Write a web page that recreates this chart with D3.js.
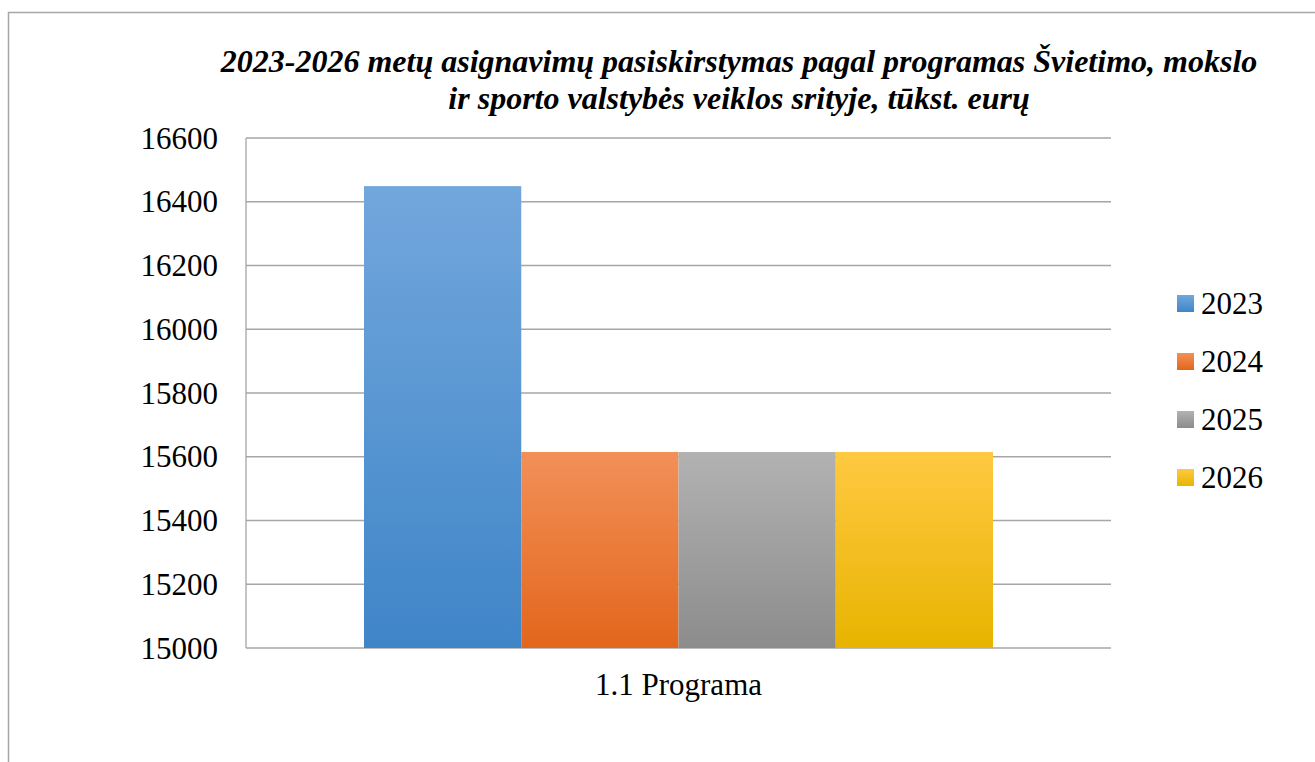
<!DOCTYPE html>
<html>
<head>
<meta charset="utf-8">
<script src="https://cdn.jsdelivr.net/npm/d3@7"></script>
</head>
<body style="margin:0">
<div id="chart"></div>
<script>
const categories = ['1.1 Programa']
const seriesNames = ['2023', '2024', '2025', '2026']
const seriesValues = [16449, 15615, 15615, 15615]
const yTicks = [15000, 15200, 15400, 15600, 15800, 16000, 16200, 16400, 16600]
const titleLines = [
    '2023-2026 metų asignavimų pasiskirstymas pagal programas Švietimo, mokslo',
    'ir sporto valstybės veiklos srityje, tūkst. eurų',
]
const gradientStops = [
    ['#72a7dc', '#3f85c8'],
    ['#f29058', '#e2661c'],
    ['#b2b2b2', '#8c8c8c'],
    ['#ffc942', '#e8b400'],
]

const serif = 'Liberation Serif'
const width = 1315
const height = 762
const margin = { top: 138, right: 204, bottom: 114, left: 246 }
const boundedWidth = width - margin.left - margin.right
const boundedHeight = height - margin.top - margin.bottom

const svg = d3.select('#chart')
    .append('svg')
    .attr('width', width)
    .attr('height', height)

// outer chart frame (runs off the right and bottom edges)
svg.append('rect')
    .attr('x', 8.5)
    .attr('y', 12.5)
    .attr('width', width + 20)
    .attr('height', height + 20)
    .attr('fill', 'none')
    .attr('stroke', '#a6a6a6')
    .attr('stroke-width', 1.5)

const defs = svg.append('defs')
gradientStops.forEach((stops, i) => {
    const grad = defs.append('linearGradient')
        .attr('id', `grad${i}`)
        .attr('x1', 0).attr('y1', 0)
        .attr('x2', 0).attr('y2', 1)
    grad.append('stop').attr('offset', '0%').attr('stop-color', stops[0])
    grad.append('stop').attr('offset', '100%').attr('stop-color', stops[1])
})

const yScale = d3.scaleLinear()
    .domain([15000, 16600])
    .range([margin.top + boundedHeight, margin.top])

const xScale = d3.scaleBand()
    .domain(categories)
    .range([margin.left, margin.left + boundedWidth])
    .paddingInner(0)
    .paddingOuter(0.1876)

const xInner = d3.scaleBand()
    .domain(seriesNames)
    .range([0, xScale.bandwidth()])

// gridlines
svg.append('g')
    .selectAll('line')
    .data(yTicks)
    .join('line')
    .attr('x1', margin.left)
    .attr('x2', margin.left + boundedWidth)
    .attr('y1', d => yScale(d))
    .attr('y2', d => yScale(d))
    .attr('stroke', '#a6a6a6')
    .attr('stroke-width', 1.3)

// left axis line
svg.append('line')
    .attr('x1', margin.left)
    .attr('x2', margin.left)
    .attr('y1', yScale(15000))
    .attr('y2', yScale(16600))
    .attr('stroke', '#a6a6a6')
    .attr('stroke-width', 1.3)

// bars
svg.append('g')
    .selectAll('rect')
    .data(seriesValues)
    .join('rect')
    .attr('x', (d, i) => xScale(categories[0]) + xInner(seriesNames[i]))
    .attr('width', xInner.bandwidth())
    .attr('y', d => yScale(d))
    .attr('height', d => yScale(15000) - yScale(d))
    .attr('fill', (d, i) => `url(#grad${i})`)

// y tick labels
svg.selectAll('text.tick')
    .data(yTicks)
    .join('text')
    .attr('class', 'tick')
    .attr('x', margin.left - 28)
    .attr('y', d => yScale(d))
    .attr('dy', '0.34em')
    .attr('text-anchor', 'end')
    .attr('font-family', serif)
    .attr('font-size', 31)
    .text(d => d3.format('d')(d))

// x category label
svg.selectAll('text.cat')
    .data(categories)
    .join('text')
    .attr('class', 'cat')
    .attr('x', d => xScale(d) + xScale.bandwidth() / 2)
    .attr('y', yScale(15000) + 47)
    .attr('text-anchor', 'middle')
    .attr('font-family', serif)
    .attr('font-size', 31)
    .text(d => d)

// title
svg.selectAll('text.title')
    .data(titleLines)
    .join('text')
    .attr('class', 'title')
    .attr('x', 739)
    .attr('y', (d, i) => 72 + i * 37)
    .attr('text-anchor', 'middle')
    .attr('font-family', serif)
    .attr('font-size', 32)
    .attr('font-weight', 'bold')
    .attr('font-style', 'italic')
    .text(d => d)

// legend
svg.selectAll('rect.key')
    .data(seriesNames)
    .join('rect')
    .attr('class', 'key')
    .attr('x', 1177)
    .attr('y', (d, i) => 295 + i * 58)
    .attr('width', 17)
    .attr('height', 17)
    .attr('fill', (d, i) => `url(#grad${i})`)

svg.selectAll('text.key')
    .data(seriesNames)
    .join('text')
    .attr('class', 'key')
    .attr('x', 1201)
    .attr('y', (d, i) => 303.5 + i * 58)
    .attr('dy', '0.34em')
    .attr('font-family', serif)
    .attr('font-size', 31)
    .text(d => d)
</script>
</body>
</html>
